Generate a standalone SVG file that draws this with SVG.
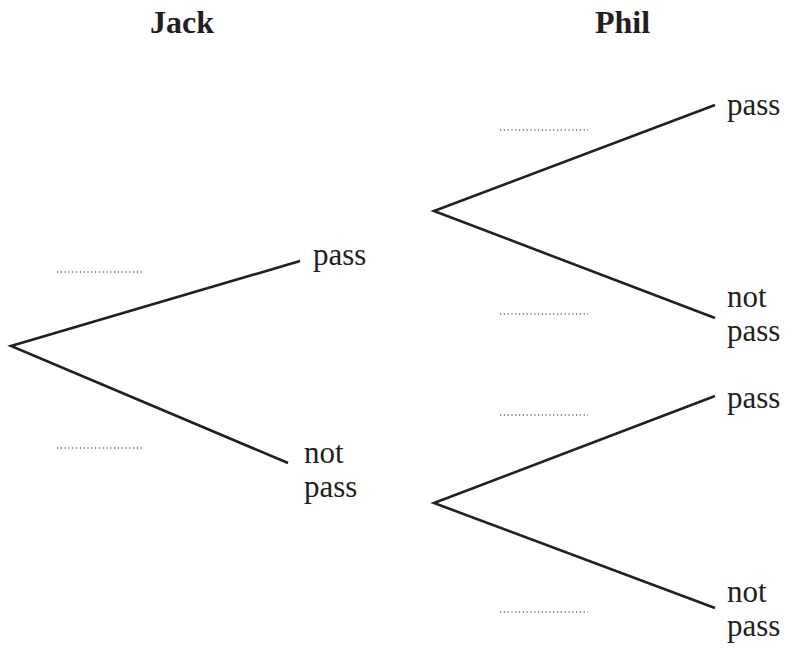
<svg xmlns="http://www.w3.org/2000/svg" width="787" height="652" viewBox="0 0 787 652">
  <style>
    .branch { stroke: #231f20; stroke-width: 2.6; fill: none; stroke-linecap: butt; }
    .blank { stroke: #231f20; stroke-width: 1.2; stroke-dasharray: 1.2 2.6; fill: none; }
    .label { font-family: "Liberation Serif", "Times New Roman", serif; font-size: 31px; fill: #231f20; }
    .head { font-family: "Liberation Serif", "Times New Roman", serif; font-size: 32px; font-weight: bold; fill: #231f20; }
  </style>
  <rect width="787" height="652" fill="#ffffff"/>

  <!-- column headings -->
  <g id="headings">
    <text class="head" x="150" y="33">Jack</text>
    <text class="head" x="595" y="33">Phil</text>
  </g>

  <!-- branches of the tree -->
  <g id="connectors">
    <polyline class="branch" points="300,261 11,346 288,463"/>
    <polyline class="branch" points="715,105 434,211 715,318"/>
    <polyline class="branch" points="715,396 434,503 715,608"/>
  </g>

  <!-- dotted answer spaces for probabilities -->
  <g id="blanks">
    <line class="blank" x1="57" y1="272" x2="144" y2="272"/>
    <line class="blank" x1="57" y1="448" x2="144" y2="448"/>
    <line class="blank" x1="500" y1="130" x2="588" y2="130"/>
    <line class="blank" x1="500" y1="314" x2="588" y2="314"/>
    <line class="blank" x1="500" y1="415" x2="588" y2="415"/>
    <line class="blank" x1="500" y1="612" x2="588" y2="612"/>
  </g>

  <!-- outcome nodes -->
  <g id="jack-pass">
    <text class="label" x="313" y="265">pass</text>
  </g>
  <g id="jack-notpass">
    <text class="label" x="304" y="463">not</text>
    <text class="label" x="304" y="497">pass</text>
  </g>
  <g id="phil-pass-1">
    <text class="label" x="727" y="115">pass</text>
  </g>
  <g id="phil-notpass-1">
    <text class="label" x="727" y="307">not</text>
    <text class="label" x="727" y="341">pass</text>
  </g>
  <g id="phil-pass-2">
    <text class="label" x="727" y="408">pass</text>
  </g>
  <g id="phil-notpass-2">
    <text class="label" x="727" y="602">not</text>
    <text class="label" x="727" y="636">pass</text>
  </g>
</svg>
